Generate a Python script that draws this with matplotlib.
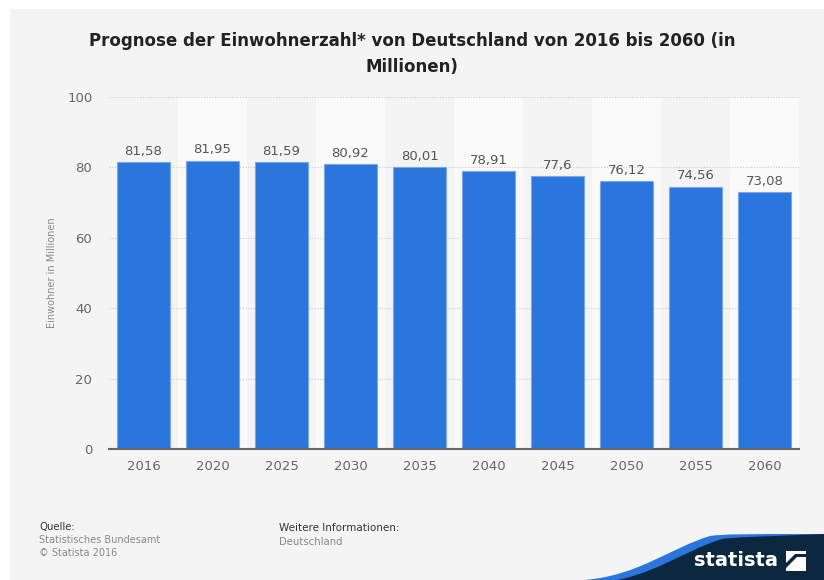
import matplotlib.pyplot as plt
import numpy as np
from matplotlib.path import Path
from matplotlib.patches import PathPatch, Rectangle, Polygon

years = ["2016", "2020", "2025", "2030", "2035", "2040", "2045", "2050", "2055", "2060"]
population = [81.58, 81.95, 81.59, 80.92, 80.01, 78.91, 77.6, 76.12, 74.56, 73.08]
y_ticks = [0, 20, 40, 60, 80, 100]

bar_color = "#2a76dd"
bg_color = "#f4f4f4"
band_color = "#fafafa"

fig = plt.figure(figsize=(8.24, 5.8), dpi=100, facecolor="white")

# full-figure canvas in pixel units for background, footer and logo
bg = fig.add_axes([0, 0, 1, 1], zorder=0)
bg.set_xlim(0, 824)
bg.set_ylim(580, 0)
bg.axis("off")
bg.add_patch(Rectangle((10, 9), 814, 571, facecolor=bg_color, edgecolor="none"))

ax = fig.add_axes([109 / 824, 1 - 449 / 580, 690 / 824, 352 / 580], zorder=1)
ax.set_facecolor(bg_color)
x = np.arange(len(years))

for i in x:
    if i % 2 == 1:
        ax.axvspan(i - 0.5, i + 0.5, color=band_color, zorder=0, lw=0)

for t in y_ticks[1:]:
    ax.axhline(t, color="#cccccc", lw=0.8, ls=(0, (1, 1.5)), zorder=1)

bars = ax.bar(x, population, width=0.78, color=bar_color,
              edgecolor="#7aa9ea", linewidth=0.8, zorder=2)
labels = [f"{v:g}".replace(".", ",") for v in population]
ax.bar_label(bars, labels=labels, padding=3, fontsize=9.5, color="#555555")

ax.set_xlim(-0.5, len(years) - 0.5)
ax.set_ylim(0, 100)
ax.set_xticks(x)
ax.set_xticklabels(years)
ax.set_yticks(y_ticks)
ax.tick_params(axis="both", length=0, labelsize=9.5, colors="#666666")
ax.tick_params(axis="y", pad=12)
ax.tick_params(axis="x", pad=8)
for side in ["top", "right", "left"]:
    ax.spines[side].set_visible(False)
ax.spines["bottom"].set_color("#666666")
ax.spines["bottom"].set_linewidth(1.5)
ax.spines["bottom"].set_zorder(3)
ax.set_ylabel("Einwohner in Millionen", fontsize=7, color="#888888")
ax.yaxis.set_label_coords(-0.075, 0.5)

bg.text(412, 41, "Prognose der Einwohnerzahl* von Deutschland von 2016 bis 2060 (in",
        ha="center", va="center", fontsize=12, fontweight="bold", color="#222222")
bg.text(412, 67, "Millionen)", ha="center", va="center",
        fontsize=12, fontweight="bold", color="#222222")

# footer
bg.text(39, 527, "Quelle:", fontsize=7.3, color="#333333", va="center")
bg.text(39, 540, "Statistisches Bundesamt", fontsize=7, color="#888888", va="center")
bg.text(39, 553, "\u00a9 Statista 2016", fontsize=7, color="#888888", va="center")
bg.text(279, 528, "Weitere Informationen:", fontsize=7.5, color="#333333", va="center")
bg.text(279, 542, "Deutschland", fontsize=7.3, color="#888888", va="center")

# statista wave and logo
def wave(y_top):
    verts = [(585, 580), (640, 575), (670, 548), (710, y_top + 2),
             (725, y_top), (740, y_top), (824, y_top), (824, 580), (585, 580)]
    codes = [Path.MOVETO, Path.CURVE4, Path.CURVE4, Path.CURVE4,
             Path.CURVE4, Path.CURVE4, Path.LINETO, Path.LINETO, Path.CLOSEPOLY]
    return Path(verts, codes)

outer = wave(534)
bg.add_patch(PathPatch(outer, facecolor="#2a76dd", edgecolor="none"))
inner = Path([(v[0] + 12, v[1] + 3) if i < 6 else v
              for i, v in enumerate(outer.vertices)], outer.codes)
bg.add_patch(PathPatch(inner, facecolor="#0c2840", edgecolor="none"))
bg.text(736, 561, "statista", fontsize=14, fontweight="bold", color="white",
        ha="center", va="center")
bg.add_patch(Rectangle((786, 551), 20, 20, facecolor="white", edgecolor="none"))
bg.add_patch(Polygon([(786, 568), (797, 557), (806, 557), (806, 554), (795, 554),
                      (786, 563)], facecolor="#0c2840", edgecolor="none"))

fig.savefig("out.png", dpi=100, facecolor="white")
